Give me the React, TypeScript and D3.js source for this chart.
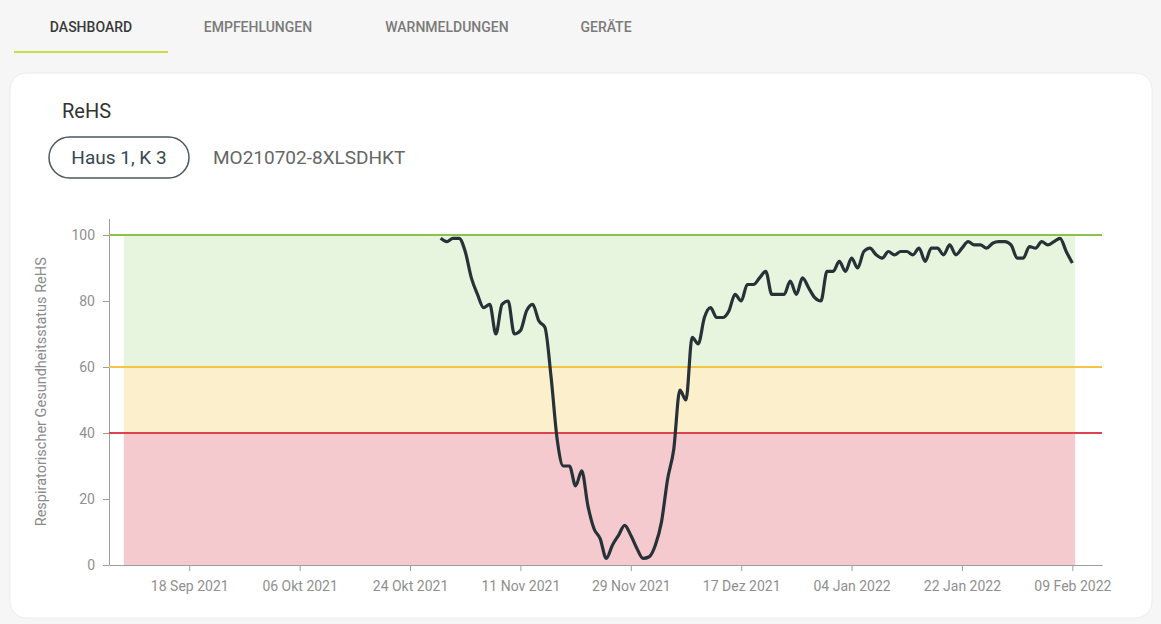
import React, { useRef, useEffect } from 'react';
import * as d3 from 'd3';

// daily ReHS values, 29 Okt 2021 .. 09 Feb 2022
const seriesStart = new Date(2021, 9, 29);
const rehsValues = [
  99, 98, 99, 99, 95, 87, 82, 78, 79, 70,
  79, 80, 70, 71, 77, 79, 74, 72, 57, 38,
  30, 30, 24, 28.5, 18, 11, 8, 2, 6, 9,
  12, 9, 5, 2, 2.5, 6, 13, 26, 35, 53,
  50, 69, 67, 75, 78, 75, 75, 77, 82, 80,
  85, 85, 87, 89, 82, 82, 82, 86, 82, 87,
  84, 81, 80, 89, 89, 92, 89, 93, 90, 95,
  96, 94, 93, 95, 94, 95, 95, 94, 96, 92,
  96, 96, 94, 97, 94, 96, 98, 97, 97, 96,
  97.5, 98, 98, 97, 93, 93, 96.5, 96, 98, 97,
  98, 99, 95, 91.5,
];

const tickDates = [
  new Date(2021, 8, 18), new Date(2021, 9, 6), new Date(2021, 9, 24),
  new Date(2021, 10, 11), new Date(2021, 10, 29), new Date(2021, 11, 17),
  new Date(2022, 0, 4), new Date(2022, 0, 22), new Date(2022, 1, 9),
];
const monthNames = ['Jan', 'Feb', 'Mär', 'Apr', 'Mai', 'Jun', 'Jul', 'Aug', 'Sep', 'Okt', 'Nov', 'Dez'];
const yTicks = [0, 20, 40, 60, 80, 100];

const xDomain = [new Date(2021, 8, 4, 22), new Date(2022, 1, 13, 20)];
const bandStart = new Date(2021, 8, 7, 8);
const bandEnd = new Date(2022, 1, 9, 11);

const zones = [
  { from: 60, to: 100, fill: '#e8f5de', line: '#8bc34a' },
  { from: 40, to: 60, fill: '#fcefcc', line: '#f4c542' },
  { from: 0, to: 40, fill: '#f5cace', line: '#e0414f' },
];

const tabs = ['DASHBOARD', 'EMPFEHLUNGEN', 'WARNMELDUNGEN', 'GERÄTE'];
const tabCenters = [91, 258, 447, 606];

const W = 1161;
const H = 624;
const FONT = 'Roboto, "Noto Sans", sans-serif';

function RehsChart() {
  const svgRef = useRef(null);

  useEffect(() => {
    const svg = d3.select(svgRef.current);
    svg.selectAll('*').remove();

    // page + card
    svg.append('rect').attr('width', W).attr('height', H).attr('fill', '#f6f6f6');
    svg.append('rect')
      .attr('x', 10).attr('y', 73).attr('width', 1142).attr('height', 545)
      .attr('rx', 16).attr('fill', '#fff').attr('stroke', '#ececec');

    // tabs
    tabs.forEach((t, i) => {
      svg.append('text')
        .attr('x', tabCenters[i]).attr('y', 32)
        .attr('text-anchor', 'middle')
        .style('font-family', FONT).style('font-size', '14px').style('font-weight', 500)
        .attr('fill', i === 0 ? '#3a3a3a' : '#7a7a7a')
        .text(t);
    });
    svg.append('rect').attr('x', 14).attr('y', 51).attr('width', 154).attr('height', 2).attr('fill', '#c9dc46');

    // header
    svg.append('text').attr('x', 62).attr('y', 118)
      .style('font-family', FONT).style('font-size', '20px').attr('fill', '#333').text('ReHS');
    svg.append('rect')
      .attr('x', 49).attr('y', 137).attr('width', 140).attr('height', 41).attr('rx', 20.5)
      .attr('fill', 'none').attr('stroke', '#4d5860').attr('stroke-width', 1.5);
    svg.append('text').attr('x', 119).attr('y', 164).attr('text-anchor', 'middle')
      .style('font-family', FONT).style('font-size', '19px').attr('fill', '#37474f').text('Haus 1, K 3');
    svg.append('text').attr('x', 213).attr('y', 164)
      .style('font-family', FONT).style('font-size', '19px').attr('fill', '#666').text('MO210702-8XLSDHKT');

    // scales
    const x = d3.scaleTime().domain(xDomain).range([109, 1102]);
    const y = d3.scaleLinear().domain([0, 105]).range([565, 218.5]);

    // zone bands
    zones.forEach(z => {
      svg.append('rect')
        .attr('x', x(bandStart)).attr('width', x(bandEnd) - x(bandStart))
        .attr('y', y(z.to)).attr('height', y(z.from) - y(z.to))
        .attr('fill', z.fill);
    });

    // axes
    const xAxis = svg.append('g')
      .attr('transform', `translate(0,${y(0)})`)
      .call(d3.axisBottom(x).tickValues(tickDates).tickSize(6).tickSizeOuter(0).tickPadding(10)
        .tickFormat(d => `${d3.timeFormat('%d')(d)} ${monthNames[d.getMonth()]} ${d.getFullYear()}`));
    const yAxis = svg.append('g')
      .attr('transform', `translate(109,0)`)
      .call(d3.axisLeft(y).tickValues(yTicks).tickSize(6).tickSizeOuter(0).tickPadding(8));
    [xAxis, yAxis].forEach(a => {
      a.select('.domain').attr('stroke', '#9e9e9e');
      a.selectAll('.tick line').attr('stroke', '#9e9e9e');
      a.selectAll('.tick text').attr('fill', '#8f8f8f')
        .style('font-family', FONT).style('font-size', '14px');
    });

    // threshold lines
    zones.forEach(z => {
      svg.append('line')
        .attr('x1', 109).attr('x2', 1102)
        .attr('y1', y(z.to)).attr('y2', y(z.to))
        .attr('stroke', z.line).attr('stroke-width', 2);
    });

    // y label
    svg.append('text')
      .attr('transform', `translate(46,${(y(0) + y(105)) / 2}) rotate(-90)`)
      .attr('text-anchor', 'middle')
      .style('font-family', FONT).style('font-size', '14.5px')
      .attr('fill', '#8a8a8a')
      .text('Respiratorischer Gesundheitsstatus ReHS');

    // ReHS line
    const line = d3.line()
      .x((d, i) => x(d3.timeDay.offset(seriesStart, i)))
      .y(d => y(d))
      .curve(d3.curveMonotoneX);
    svg.append('path')
      .datum(rehsValues)
      .attr('fill', 'none')
      .attr('stroke', '#263238')
      .attr('stroke-width', 3.2)
      .attr('stroke-linejoin', 'round')
      .attr('d', line);
  }, []);

  return <svg ref={svgRef} width={W} height={H} style={{ position: 'absolute', left: 0, top: 0 }}></svg>;
}

export default function App() {
  return <RehsChart />;
}
